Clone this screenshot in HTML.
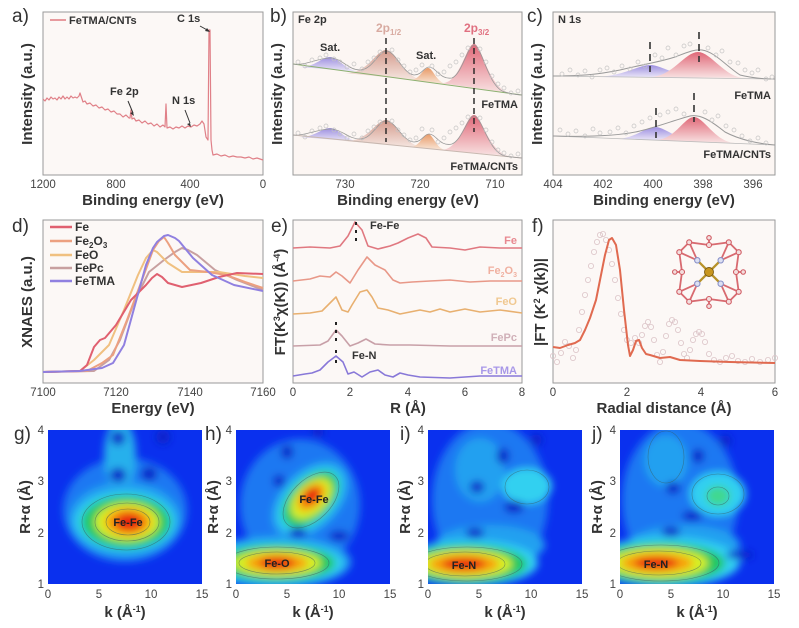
<!DOCTYPE html>
<html><head><meta charset="utf-8">
<style>
html,body{margin:0;padding:0;background:#fff;}
svg{display:block;font-family:"Liberation Sans",Arial,sans-serif;}
.t{font-size:11.5px;fill:#444;}
.ax{font-size:15px;font-weight:bold;fill:#333;}
.pl{font-size:19px;fill:#333;}
.lb{font-size:11px;font-weight:bold;fill:#333;}
</style></head><body>
<svg width="799" height="628" viewBox="0 0 799 628" xmlns="http://www.w3.org/2000/svg">
<defs>
<filter id="bl" x="-50%" y="-50%" width="200%" height="200%"><feGaussianBlur stdDeviation="4"/></filter>
<linearGradient id="gP" x1="0" y1="0" x2="0" y2="1"><stop offset="0" stop-color="#9c8ee0"/><stop offset="1" stop-color="#eeeaf8"/></linearGradient>
<linearGradient id="gB" x1="0" y1="0" x2="0" y2="1"><stop offset="0" stop-color="#d49a8c"/><stop offset="1" stop-color="#f6e8e2"/></linearGradient>
<linearGradient id="gO" x1="0" y1="0" x2="0" y2="1"><stop offset="0" stop-color="#e89a68"/><stop offset="1" stop-color="#f8e6d8"/></linearGradient>
<linearGradient id="gR" x1="0" y1="0" x2="0" y2="1"><stop offset="0" stop-color="#e06878"/><stop offset="1" stop-color="#f8e2e2"/></linearGradient>
<clipPath id="cg"><rect x="48" y="430" width="154" height="154"/></clipPath>
<clipPath id="ch"><rect x="236" y="430" width="154" height="154"/></clipPath>
<clipPath id="ci"><rect x="428" y="430" width="154" height="154"/></clipPath>
<clipPath id="cj"><rect x="620" y="430" width="154" height="154"/></clipPath>
</defs>

<rect x="43" y="12" width="220" height="163" fill="#fcf8f6" stroke="#999"/>
<rect x="293" y="12" width="229" height="163" fill="#fcf6f3" stroke="#999"/>
<rect x="553" y="12" width="222" height="163" fill="#fcf6f3" stroke="#999"/>
<rect x="43" y="220" width="220" height="163" fill="#fcf8f6" stroke="#999"/>
<rect x="293" y="220" width="229" height="163" fill="#fcf8f6" stroke="#999"/>
<rect x="553" y="220" width="222" height="163" fill="#fcf8f6" stroke="#999"/>

<!-- a curve -->
<polyline fill="none" stroke="#e08088" stroke-width="1.2" stroke-linejoin="round" points="43,99 45,101 47,98 49,100 51,97 53,99 55,98 57,100 59,97 61,99 63,96 65,99 67,97 69,99 71,96 73,98 75,97 77,98 79,96 80,93 81,96 83,102 85,101 87,104 90,103 93,106 96,105 99,108 102,107 105,110 108,109 111,112 114,111 117,114 120,114 123,117 126,115 129,118 130,118 131,110 132,119 134,118 136,121 139,120 142,123 145,121 148,124 151,123 154,126 157,124 160,127 163,125 165,127 166,104 167,128 170,127 173,129 176,127 179,128 182,126 185,128 188,126 191,127 194,125 197,126 200,124 202,121 204,124 206,137 208,140 209,30 210,30 211,140 212,150 213,155 217,154 221,156 225,155 229,157 233,156 237,157 241,157 245,158 249,157 253,159 257,158 263,160"/>

<!-- b top spectrum -->
<path d="M300,67 C315,67 322,57 330,57 C338,57 345,70 360,72 Z" fill="url(#gP)"/>
<path d="M345,73 C368,74 376,50 386,50 C396,50 404,78 425,81 Z" fill="url(#gB)"/>
<path d="M410,80 C420,80 423,68 428,68 C433,68 436,82 446,84 Z" fill="url(#gO)"/>
<path d="M440,83 C460,86 466,44 474,44 C482,44 488,88 510,93 Z" fill="url(#gR)"/>
<line x1="293" y1="64" x2="522" y2="95" stroke="#8cb070" stroke-width="1"/>
<path d="M293,64 C305,66 318,58 330,58 C342,58 348,70 360,70 C372,70 378,52 386,51 C396,51 402,73 414,75 C422,75 424,67 429,67 C436,67 440,80 452,78 C462,74 468,45 474,45 C482,45 488,88 505,92 C512,94 518,95 522,95" fill="none" stroke="#999" stroke-width="0.8"/>
<g fill="none" stroke="#c4c4c4" stroke-width="0.7">
<circle cx="298" cy="62" r="2"/><circle cx="305" cy="66" r="2"/><circle cx="312" cy="60" r="2"/><circle cx="320" cy="58" r="2"/><circle cx="326" cy="55" r="2"/><circle cx="334" cy="59" r="2"/><circle cx="340" cy="62" r="2"/><circle cx="347" cy="67" r="2"/><circle cx="354" cy="64" r="2"/><circle cx="362" cy="69" r="2"/><circle cx="368" cy="62" r="2"/><circle cx="374" cy="58" r="2"/><circle cx="380" cy="52" r="2"/><circle cx="392" cy="50" r="2"/><circle cx="398" cy="60" r="2"/><circle cx="404" cy="66" r="2"/><circle cx="410" cy="72" r="2"/><circle cx="416" cy="70" r="2"/><circle cx="422" cy="65" r="2"/><circle cx="432" cy="66" r="2"/><circle cx="438" cy="74" r="2"/><circle cx="444" cy="72" r="2"/><circle cx="450" cy="66" r="2"/><circle cx="456" cy="62" r="2"/><circle cx="462" cy="55" r="2"/><circle cx="468" cy="48" r="2"/><circle cx="480" cy="49" r="2"/><circle cx="486" cy="62" r="2"/><circle cx="492" cy="76" r="2"/><circle cx="498" cy="84" r="2"/><circle cx="504" cy="88" r="2"/><circle cx="511" cy="93" r="2"/><circle cx="518" cy="91" r="2"/>
</g>
<!-- b bottom spectrum -->
<path d="M300,137 C315,137 322,128 330,128 C338,128 345,140 360,142 Z" fill="url(#gP)"/>
<path d="M345,141 C368,142 376,120 386,120 C396,120 404,146 425,148 Z" fill="url(#gB)"/>
<path d="M410,147 C420,147 423,134 428,134 C433,134 436,149 446,150 Z" fill="url(#gO)"/>
<path d="M440,150 C460,151 466,115 474,115 C482,115 488,153 510,156 Z" fill="url(#gR)"/>
<line x1="293" y1="135" x2="522" y2="158" stroke="#c8b8b0" stroke-width="1"/>
<path d="M293,135 C305,136 318,129 330,129 C342,129 348,139 360,139 C372,139 378,121 386,121 C396,121 402,141 414,142 C422,142 424,134 429,134 C436,134 440,147 452,144 C462,140 468,116 474,116 C482,116 488,152 505,156 C512,157 518,158 522,158" fill="none" stroke="#999" stroke-width="0.8"/>
<g fill="none" stroke="#c4c4c4" stroke-width="0.7">
<circle cx="298" cy="133" r="2"/><circle cx="305" cy="137" r="2"/><circle cx="312" cy="131" r="2"/><circle cx="320" cy="128" r="2"/><circle cx="326" cy="126" r="2"/><circle cx="334" cy="130" r="2"/><circle cx="340" cy="134" r="2"/><circle cx="347" cy="138" r="2"/><circle cx="354" cy="134" r="2"/><circle cx="362" cy="138" r="2"/><circle cx="368" cy="131" r="2"/><circle cx="374" cy="127" r="2"/><circle cx="380" cy="122" r="2"/><circle cx="392" cy="121" r="2"/><circle cx="398" cy="130" r="2"/><circle cx="404" cy="135" r="2"/><circle cx="410" cy="140" r="2"/><circle cx="416" cy="138" r="2"/><circle cx="422" cy="129" r="2"/><circle cx="432" cy="130" r="2"/><circle cx="438" cy="142" r="2"/><circle cx="444" cy="138" r="2"/><circle cx="450" cy="132" r="2"/><circle cx="456" cy="128" r="2"/><circle cx="462" cy="123" r="2"/><circle cx="468" cy="117" r="2"/><circle cx="480" cy="118" r="2"/><circle cx="486" cy="130" r="2"/><circle cx="492" cy="142" r="2"/><circle cx="498" cy="150" r="2"/><circle cx="504" cy="153" r="2"/><circle cx="511" cy="156" r="2"/><circle cx="518" cy="154" r="2"/>
</g>
<line x1="386" y1="38" x2="386" y2="142" stroke="#222" stroke-width="1.4" stroke-dasharray="6,4"/>
<line x1="474" y1="38" x2="474" y2="132" stroke="#222" stroke-width="1.4" stroke-dasharray="6,4"/>

<!-- c -->
<path d="M595,77 C625,76 638,65 650,65 C662,65 675,77 705,78 Z" fill="url(#gP)"/>
<path d="M650,77 C672,77 685,52 698,52 C711,52 725,78 745,78 Z" fill="url(#gR)"/>
<line x1="553" y1="76" x2="775" y2="79" stroke="#bbb" stroke-width="0.8"/>
<path d="M553,76 C585,76 600,74 620,70 C640,65 660,62 675,57 C688,52 695,49 702,50 C715,52 725,65 740,75 C752,78 765,79 775,79" fill="none" stroke="#999" stroke-width="1"/>
<g fill="none" stroke="#c4c4c4" stroke-width="0.7">
<circle cx="562" cy="74" r="2"/><circle cx="570" cy="70" r="2"/><circle cx="578" cy="75" r="2"/><circle cx="585" cy="71" r="2"/><circle cx="592" cy="77" r="2"/><circle cx="600" cy="70" r="2"/><circle cx="607" cy="68" r="2"/><circle cx="614" cy="72" r="2"/><circle cx="622" cy="66" r="2"/><circle cx="630" cy="69" r="2"/><circle cx="638" cy="62" r="2"/><circle cx="645" cy="66" r="2"/><circle cx="655" cy="55" r="2"/><circle cx="662" cy="58" r="2"/><circle cx="668" cy="48" r="2"/><circle cx="676" cy="55" r="2"/><circle cx="684" cy="46" r="2"/><circle cx="690" cy="44" r="2"/><circle cx="708" cy="48" r="2"/><circle cx="716" cy="55" r="2"/><circle cx="722" cy="51" r="2"/><circle cx="730" cy="62" r="2"/><circle cx="738" cy="63" r="2"/><circle cx="745" cy="70" r="2"/><circle cx="752" cy="73" r="2"/><circle cx="758" cy="70" r="2"/><circle cx="766" cy="79" r="2"/><circle cx="772" cy="77" r="2"/>
</g>
<path d="M615,139 C635,139 645,127 655,127 C665,127 675,139 695,141 Z" fill="url(#gP)"/>
<path d="M655,140 C675,140 684,117 694,117 C704,117 715,142 735,143 Z" fill="url(#gR)"/>
<line x1="553" y1="136" x2="775" y2="145" stroke="#bbb" stroke-width="0.8"/>
<path d="M553,136 C590,137 620,136 640,131 C660,126 675,120 690,116 C700,114 710,120 725,132 C740,140 760,144 775,145" fill="none" stroke="#999" stroke-width="1"/>
<g fill="none" stroke="#c4c4c4" stroke-width="0.7">
<circle cx="560" cy="130" r="2"/><circle cx="568" cy="134" r="2"/><circle cx="576" cy="131" r="2"/><circle cx="585" cy="136" r="2"/><circle cx="593" cy="129" r="2"/><circle cx="600" cy="133" r="2"/><circle cx="610" cy="132" r="2"/><circle cx="618" cy="128" r="2"/><circle cx="626" cy="133" r="2"/><circle cx="634" cy="126" r="2"/><circle cx="642" cy="122" r="2"/><circle cx="650" cy="118" r="2"/><circle cx="660" cy="115" r="2"/><circle cx="668" cy="112" r="2"/><circle cx="676" cy="109" r="2"/><circle cx="684" cy="114" r="2"/><circle cx="705" cy="112" r="2"/><circle cx="712" cy="120" r="2"/><circle cx="718" cy="116" r="2"/><circle cx="726" cy="126" r="2"/><circle cx="734" cy="130" r="2"/><circle cx="742" cy="136" r="2"/><circle cx="750" cy="141" r="2"/><circle cx="758" cy="138" r="2"/><circle cx="766" cy="143" r="2"/>
</g>
<g stroke="#333" stroke-width="1.6" stroke-dasharray="7,5">
<line x1="650" y1="42" x2="650" y2="72"/><line x1="699" y1="32" x2="699" y2="62"/>
<line x1="656" y1="108" x2="656" y2="138"/><line x1="694" y1="93" x2="694" y2="122"/>
</g>

<!-- d curves -->
<g fill="none" stroke-width="2" stroke-linejoin="round">
<polyline stroke="#c8a0a0" points="43,372 94,371 109,360 120,340 135,300 149,272 164,260 175,252 182,248 188,250 197,255 215,270 237,280 263,290"/>
<polyline stroke="#f0c080" points="43,372 80,371 94,360 109,345 124,310 138,275 146,258 153,250 157,252 168,263 182,272 197,272 219,272 245,276 263,278"/>
<polyline stroke="#eca080" points="43,372 87,371 102,363 113,355 127,320 142,280 153,250 159,241 164,237 168,243 175,255 190,270 208,272 226,275 245,282 263,288"/>
<polyline stroke="#e06070" points="43,372 80,371 87,365 94,347 100,340 105,338 116,325 131,300 146,285 152,278 157,274 162,277 168,283 182,287 201,283 219,277 237,273 263,274"/>
<polyline stroke="#9080e0" points="43,372 80,371 102,368 113,363 124,345 135,305 146,265 153,248 157,242 164,236 168,235 175,238 179,241 193,258 212,275 234,285 263,291"/>
</g>

<!-- e curves -->
<g fill="none" stroke-width="1.6" stroke-linejoin="round">
<polyline stroke="#e07880" points="293,248 310,247 330,248 340,246 348,236 355,222 362,230 368,246 378,249 390,246 398,243 408,238 418,234 426,238 432,247 450,248 465,250 480,247 500,248 522,248"/>
<polyline stroke="#e89888" points="293,281 310,279 320,276 330,277 336,272 342,276 350,283 358,270 367,257 375,265 385,270 393,280 400,283 412,282 430,281 450,280 470,282 490,281 522,281"/>
<polyline stroke="#e8b070" points="293,314 310,313 322,311 328,305 336,297 342,310 348,312 352,305 360,292 367,290 372,297 378,308 388,310 400,314 410,312 420,310 430,312 440,309 450,312 465,309 480,312 500,310 522,313"/>
<polyline stroke="#c8a0a8" points="293,346 320,345 328,341 336,330 342,336 350,346 358,343 366,339 375,344 390,345 410,345 450,346 522,346"/>
<polyline stroke="#8878d8" points="293,376 305,374 312,373 320,370 328,362 336,356 343,362 348,374 354,372 362,377 370,372 378,370 385,375 393,377 400,373 408,375 420,377 450,378 480,376 522,376"/>
</g>
<g fill="#222">
<rect x="355" y="222" width="2" height="3"/><rect x="355" y="230" width="2" height="3"/><rect x="355" y="238" width="2" height="3"/>
<rect x="335" y="322" width="2" height="3"/><rect x="335" y="330" width="2" height="3"/><rect x="335" y="338" width="2" height="3"/><rect x="335" y="350" width="2" height="3"/><rect x="335" y="360" width="2" height="3"/>
</g>

<!-- f -->
<g fill="none" stroke="#dcc4c8" stroke-width="0.8">
<circle cx="553" cy="356" r="2.6"/><circle cx="557" cy="362" r="2.6"/><circle cx="561" cy="353" r="2.6"/><circle cx="565" cy="342" r="2.6"/><circle cx="569" cy="346" r="2.6"/><circle cx="573" cy="358" r="2.6"/><circle cx="576" cy="350" r="2.6"/><circle cx="579" cy="330" r="2.6"/><circle cx="582" cy="312" r="2.6"/><circle cx="585" cy="295" r="2.6"/><circle cx="588" cy="280" r="2.6"/><circle cx="591" cy="266" r="2.6"/><circle cx="594" cy="252" r="2.6"/><circle cx="597" cy="242" r="2.6"/><circle cx="600" cy="235" r="2.6"/><circle cx="603" cy="234" r="2.6"/><circle cx="606" cy="240" r="2.6"/><circle cx="609" cy="250" r="2.6"/><circle cx="612" cy="264" r="2.6"/><circle cx="615" cy="280" r="2.6"/><circle cx="618" cy="298" r="2.6"/><circle cx="621" cy="314" r="2.6"/><circle cx="624" cy="330" r="2.6"/><circle cx="627" cy="340" r="2.6"/><circle cx="631" cy="343" r="2.6"/><circle cx="635" cy="338" r="2.6"/><circle cx="639" cy="343" r="2.6"/><circle cx="642" cy="335" r="2.6"/><circle cx="645" cy="326" r="2.6"/><circle cx="648" cy="322" r="2.6"/><circle cx="651" cy="327" r="2.6"/><circle cx="654" cy="340" r="2.6"/><circle cx="657" cy="355" r="2.6"/><circle cx="660" cy="362" r="2.6"/><circle cx="663" cy="352" r="2.6"/><circle cx="666" cy="336" r="2.6"/><circle cx="669" cy="324" r="2.6"/><circle cx="672" cy="320" r="2.6"/><circle cx="675" cy="322" r="2.6"/><circle cx="678" cy="330" r="2.6"/><circle cx="681" cy="343" r="2.6"/><circle cx="684" cy="354" r="2.6"/><circle cx="687" cy="358" r="2.6"/><circle cx="690" cy="350" r="2.6"/><circle cx="693" cy="340" r="2.6"/><circle cx="696" cy="334" r="2.6"/><circle cx="699" cy="332" r="2.6"/><circle cx="702" cy="334" r="2.6"/><circle cx="705" cy="342" r="2.6"/><circle cx="709" cy="354" r="2.6"/><circle cx="714" cy="360" r="2.6"/><circle cx="720" cy="362" r="2.6"/><circle cx="726" cy="358" r="2.6"/><circle cx="732" cy="356" r="2.6"/><circle cx="738" cy="361" r="2.6"/><circle cx="745" cy="362" r="2.6"/><circle cx="752" cy="359" r="2.6"/><circle cx="760" cy="362" r="2.6"/><circle cx="768" cy="360" r="2.6"/><circle cx="775" cy="358" r="2.6"/>
</g>
<polyline fill="none" stroke="#e06a50" stroke-width="2" stroke-linejoin="round" points="553,347 560,348 568,345 575,343 580,340 585,330 590,318 596,300 600,280 605,255 609,240 612,238 616,245 620,270 624,310 628,345 630,356 633,350 636,341 639,340 642,348 646,354 650,355 660,358 670,357 680,360 700,361 730,362 775,363"/>
<!-- inset molecule -->
<g transform="translate(709,272) scale(0.9)">
<g stroke="#d86a70" stroke-width="2" fill="none">
<polygon points="-22,-33 0,-30 22,-33 33,-22 30,0 33,22 22,33 0,30 -22,33 -33,22 -30,0 -33,-22"/>
<line x1="-13" y1="-13" x2="-22" y2="-33"/><line x1="-13" y1="-13" x2="-33" y2="-22"/>
<line x1="13" y1="-13" x2="22" y2="-33"/><line x1="13" y1="-13" x2="33" y2="-22"/>
<line x1="13" y1="13" x2="22" y2="33"/><line x1="13" y1="13" x2="33" y2="22"/>
<line x1="-13" y1="13" x2="-22" y2="33"/><line x1="-13" y1="13" x2="-33" y2="22"/>
<line x1="0" y1="-30" x2="0" y2="-38"/><line x1="30" y1="0" x2="38" y2="0"/><line x1="0" y1="30" x2="0" y2="38"/><line x1="-30" y1="0" x2="-38" y2="0"/>
</g>
<g stroke="#b8922a" stroke-width="2.5"><line x1="-13" y1="-13" x2="13" y2="13"/><line x1="13" y1="-13" x2="-13" y2="13"/></g>
<g fill="#f3dede" stroke="#d05a62" stroke-width="1.2">
<circle cx="-22" cy="-33" r="2.8"/><circle cx="0" cy="-30" r="2.8"/><circle cx="22" cy="-33" r="2.8"/><circle cx="33" cy="-22" r="2.8"/><circle cx="30" cy="0" r="2.8"/><circle cx="33" cy="22" r="2.8"/><circle cx="22" cy="33" r="2.8"/><circle cx="0" cy="30" r="2.8"/><circle cx="-22" cy="33" r="2.8"/><circle cx="-33" cy="22" r="2.8"/><circle cx="-30" cy="0" r="2.8"/><circle cx="-33" cy="-22" r="2.8"/>
<circle cx="0" cy="-38" r="2.5"/><circle cx="38" cy="0" r="2.5"/><circle cx="0" cy="38" r="2.5"/><circle cx="-38" cy="0" r="2.5"/>
</g>
<g fill="#dde0f2" stroke="#8890c8" stroke-width="1.2"><circle cx="-13" cy="-13" r="3"/><circle cx="13" cy="-13" r="3"/><circle cx="13" cy="13" r="3"/><circle cx="-13" cy="13" r="3"/></g>
<circle cx="0" cy="0" r="5" fill="#c8961e" stroke="#7a5a10"/>
</g>

<!-- heatmaps -->
<g clip-path="url(#cg)">
<rect x="48" y="430" width="154" height="154" fill="#0a30ee"/>
<g filter="url(#bl)">
<ellipse cx="125" cy="510" rx="62" ry="52" fill="#1a78f2"/>
<ellipse cx="120" cy="455" rx="16" ry="35" fill="#28b0ec"/>
<ellipse cx="125" cy="520" rx="56" ry="38" fill="#22a0f0"/>
<ellipse cx="125" cy="521" rx="50" ry="30" fill="#30d0f0"/>
<ellipse cx="126" cy="522" rx="44" ry="26" fill="#20c860"/>
<ellipse cx="127" cy="522" rx="32" ry="19" fill="#d8f020"/>
<ellipse cx="128" cy="522" rx="23" ry="14" fill="#f8a010"/>
<ellipse cx="129" cy="522" rx="14" ry="9" fill="#e82010"/>
<ellipse cx="118" cy="475" rx="8" ry="7" fill="#0820c8"/><ellipse cx="118" cy="438" rx="7" ry="7" fill="#0820c8"/><ellipse cx="149" cy="474" rx="8" ry="7" fill="#0820c8"/><ellipse cx="163" cy="437" rx="7" ry="7" fill="#0820c8"/>
</g>
<g fill="none" stroke="#3a5a5a" stroke-width="0.6" opacity="0.6"><ellipse cx="126" cy="522" rx="44" ry="28"/><ellipse cx="127" cy="522" rx="32" ry="19"/><ellipse cx="128" cy="522" rx="22" ry="13"/></g>
</g>
<g clip-path="url(#ch)">
<rect x="236" y="430" width="154" height="154" fill="#0a30ee"/>
<g filter="url(#bl)">
<ellipse cx="300" cy="505" rx="60" ry="66" fill="#1a78f2"/>
<g transform="rotate(-45 310 500)">
<ellipse cx="310" cy="500" rx="46" ry="29" fill="#22a0f0"/>
<ellipse cx="310" cy="500" rx="40" ry="24" fill="#30d0f0"/>
<ellipse cx="311" cy="500" rx="34" ry="20" fill="#20c860"/>
<ellipse cx="312" cy="500" rx="25" ry="15" fill="#d8f020"/>
<ellipse cx="313" cy="499" rx="17" ry="10" fill="#f8a010"/>
<ellipse cx="314" cy="498" rx="10" ry="7" fill="#e82010"/>
</g>
<ellipse cx="277" cy="562" rx="74" ry="26" fill="#22a0f0"/>
<ellipse cx="277" cy="563" rx="66" ry="21" fill="#30d0f0"/>
<ellipse cx="277" cy="563" rx="58" ry="18" fill="#20c860"/>
<ellipse cx="277" cy="563" rx="44" ry="13" fill="#d8f020"/>
<ellipse cx="277" cy="563" rx="31" ry="9" fill="#f8a010"/>
<ellipse cx="277" cy="563" rx="18" ry="6" fill="#e82010"/>
<ellipse cx="298" cy="533" rx="9" ry="5" fill="#0820c8"/><ellipse cx="339" cy="536" rx="10" ry="5" fill="#0820c8"/><ellipse cx="279" cy="481" rx="6" ry="6" fill="#0820c8"/><ellipse cx="287" cy="452" rx="6" ry="7" fill="#0820c8"/><ellipse cx="318" cy="432" rx="6" ry="5" fill="#0820c8"/>
</g>
<g fill="none" stroke="#3a5a5a" stroke-width="0.6" opacity="0.6"><ellipse cx="311" cy="500" rx="34" ry="20" transform="rotate(-45 311 500)"/><ellipse cx="277" cy="563" rx="52" ry="16"/><ellipse cx="277" cy="563" rx="38" ry="11"/></g>
</g>
<g clip-path="url(#ci)">
<rect x="428" y="430" width="154" height="154" fill="#0a30ee"/>
<g filter="url(#bl)">
<ellipse cx="490" cy="500" rx="58" ry="78" fill="#1a78f2"/>
<ellipse cx="480" cy="470" rx="25" ry="32" fill="#22a0f0"/>
<ellipse cx="527" cy="486" rx="25" ry="18" fill="#30d0f0"/>
<ellipse cx="490" cy="545" rx="55" ry="20" fill="#22a0f0"/>
<ellipse cx="470" cy="563" rx="68" ry="23" fill="#30d0f0"/>
<ellipse cx="467" cy="564" rx="60" ry="19" fill="#20c860"/>
<ellipse cx="465" cy="564" rx="47" ry="14" fill="#d8f020"/>
<ellipse cx="464" cy="564" rx="35" ry="10" fill="#f8a010"/>
<ellipse cx="464" cy="564" rx="22" ry="6" fill="#e82010"/>
<ellipse cx="475" cy="533" rx="9" ry="5" fill="#0820c8"/><ellipse cx="477" cy="487" rx="7" ry="6" fill="#0820c8"/><ellipse cx="514" cy="507" rx="10" ry="6" fill="#0820c8"/><ellipse cx="503" cy="456" rx="6" ry="8" fill="#0820c8"/><ellipse cx="536" cy="440" rx="6" ry="6" fill="#0820c8"/>
</g>
<g fill="none" stroke="#3a5a5a" stroke-width="0.6" opacity="0.6"><ellipse cx="527" cy="487" rx="22" ry="17"/><ellipse cx="467" cy="564" rx="55" ry="17"/><ellipse cx="465" cy="564" rx="40" ry="12"/></g>
</g>
<g clip-path="url(#cj)">
<rect x="620" y="430" width="154" height="154" fill="#0a30ee"/>
<g filter="url(#bl)">
<ellipse cx="680" cy="500" rx="58" ry="78" fill="#1a78f2"/>
<ellipse cx="666" cy="461" rx="22" ry="26" fill="#22a0f0"/>
<ellipse cx="718" cy="494" rx="28" ry="22" fill="#30d0f0"/>
<ellipse cx="718" cy="496" rx="12" ry="10" fill="#40d890"/>
<ellipse cx="685" cy="545" rx="55" ry="20" fill="#22a0f0"/>
<ellipse cx="666" cy="562" rx="74" ry="25" fill="#30d0f0"/>
<ellipse cx="661" cy="563" rx="64" ry="20" fill="#20c860"/>
<ellipse cx="659" cy="563" rx="49" ry="15" fill="#d8f020"/>
<ellipse cx="657" cy="563" rx="36" ry="10" fill="#f8a010"/>
<ellipse cx="656" cy="563" rx="22" ry="6" fill="#e82010"/>
<ellipse cx="671" cy="532" rx="9" ry="5" fill="#0820c8"/><ellipse cx="673" cy="488" rx="7" ry="6" fill="#0820c8"/><ellipse cx="692" cy="516" rx="10" ry="5" fill="#0820c8"/><ellipse cx="698" cy="456" rx="6" ry="7" fill="#0820c8"/><ellipse cx="725" cy="441" rx="6" ry="6" fill="#0820c8"/><ellipse cx="740" cy="555" rx="14" ry="4" fill="#0820c8"/>
</g>
<g fill="none" stroke="#3a5a5a" stroke-width="0.6" opacity="0.6"><ellipse cx="666" cy="457" rx="18" ry="26"/><ellipse cx="718" cy="494" rx="26" ry="20"/><ellipse cx="718" cy="496" rx="11" ry="9"/><ellipse cx="661" cy="563" rx="58" ry="18"/><ellipse cx="659" cy="563" rx="42" ry="12"/></g>
</g>

<!-- panel letters -->
<text class="pl" x="12" y="22">a)</text>
<text class="pl" x="270" y="22">b)</text>
<text class="pl" x="527" y="22">c)</text>
<text class="pl" x="12" y="232">d)</text>
<text class="pl" x="271" y="232">e)</text>
<text class="pl" x="532" y="232">f)</text>
<text class="pl" x="14" y="440">g)</text>
<text class="pl" x="205" y="440">h)</text>
<text class="pl" x="400" y="440">i)</text>
<text class="pl" x="592" y="440">j)</text>

<!-- a -->
<line x1="50" y1="20" x2="66" y2="20" stroke="#e07a80" stroke-width="1.5"/>
<text class="lb" x="69" y="24">FeTMA/CNTs</text>
<text class="lb" x="177" y="22" font-size="12">C 1s</text>
<text class="lb" x="110" y="95" font-size="12">Fe 2p</text>
<text class="lb" x="172" y="104" font-size="12">N 1s</text>
<line x1="200" y1="26" x2="209" y2="31" stroke="#333"/><path d="M210,32 l-5,-1 2,-3z" fill="#333"/>
<line x1="128" y1="101" x2="133" y2="113" stroke="#333"/><path d="M134,116 l-4,-3 3,-1z" fill="#333"/>
<line x1="185" y1="110" x2="190" y2="123" stroke="#333"/><path d="M191,127 l-4,-3 3,-1z" fill="#333"/>
<text class="t" x="43" y="188" text-anchor="middle">1200</text>
<text class="t" x="116" y="188" text-anchor="middle">800</text>
<text class="t" x="190" y="188" text-anchor="middle">400</text>
<text class="t" x="263" y="188" text-anchor="middle">0</text>
<text class="ax" x="153" y="205" text-anchor="middle">Binding energy (eV)</text>
<text class="ax" x="32" y="94" text-anchor="middle" transform="rotate(-90 32 94)">Intensity (a.u.)</text>

<!-- b -->
<text class="lb" x="298" y="23">Fe 2p</text>
<text class="lb" x="320" y="51" font-size="12">Sat.</text>
<text class="lb" x="416" y="59" font-size="12">Sat.</text>
<text x="376" y="32" font-size="12" font-weight="bold" fill="#d8aaa0">2p<tspan font-size="8" dy="3">1/2</tspan></text>
<text x="464" y="32" font-size="12" font-weight="bold" fill="#e07080">2p<tspan font-size="8" dy="3">3/2</tspan></text>
<text class="lb" x="518" y="108" text-anchor="end">FeTMA</text>
<text class="lb" x="518" y="170" text-anchor="end">FeTMA/CNTs</text>
<text class="t" x="345" y="188" text-anchor="middle">730</text>
<text class="t" x="420" y="188" text-anchor="middle">720</text>
<text class="t" x="495" y="188" text-anchor="middle">710</text>
<text class="ax" x="408" y="205" text-anchor="middle">Binding energy (eV)</text>
<text class="ax" x="282" y="94" text-anchor="middle" transform="rotate(-90 282 94)">Intensity (a.u.)</text>

<!-- c -->
<text class="lb" x="558" y="23">N 1s</text>
<text class="lb" x="771" y="99" text-anchor="end">FeTMA</text>
<text class="lb" x="771" y="158" text-anchor="end">FeTMA/CNTs</text>
<text class="t" x="553" y="188" text-anchor="middle">404</text>
<text class="t" x="603" y="188" text-anchor="middle">402</text>
<text class="t" x="653" y="188" text-anchor="middle">400</text>
<text class="t" x="703" y="188" text-anchor="middle">398</text>
<text class="t" x="753" y="188" text-anchor="middle">396</text>
<text class="ax" x="664" y="205" text-anchor="middle">Binding energy (eV)</text>
<text class="ax" x="542" y="94" text-anchor="middle" transform="rotate(-90 542 94)">Intensity (a.u.)</text>

<!-- d -->
<g font-size="12" font-weight="bold" fill="#333">
<line x1="50" y1="227" x2="72" y2="227" stroke="#e06070" stroke-width="2.5"/><text x="75" y="231">Fe</text>
<line x1="50" y1="241" x2="72" y2="241" stroke="#eca080" stroke-width="2.5"/><text x="75" y="245">Fe<tspan font-size="8" dy="3">2</tspan><tspan dy="-3">O</tspan><tspan font-size="8" dy="3">3</tspan></text>
<line x1="50" y1="255" x2="72" y2="255" stroke="#f0c080" stroke-width="2.5"/><text x="75" y="259">FeO</text>
<line x1="50" y1="268" x2="72" y2="268" stroke="#c8a0a0" stroke-width="2.5"/><text x="75" y="272">FePc</text>
<line x1="50" y1="281" x2="72" y2="281" stroke="#9080e0" stroke-width="2.5"/><text x="75" y="285">FeTMA</text>
</g>
<text class="t" x="43" y="396" text-anchor="middle">7100</text>
<text class="t" x="116" y="396" text-anchor="middle">7120</text>
<text class="t" x="190" y="396" text-anchor="middle">7140</text>
<text class="t" x="263" y="396" text-anchor="middle">7160</text>
<text class="ax" x="153" y="413" text-anchor="middle">Energy (eV)</text>
<text class="ax" x="32" y="302" text-anchor="middle" transform="rotate(-90 32 302)">XNAES (a.u.)</text>

<!-- e -->
<g font-size="11" font-weight="bold" text-anchor="end">
<text x="517" y="244" fill="#e88890">Fe</text>
<text x="517" y="274" fill="#f0b0a0">Fe<tspan font-size="7" dy="3">2</tspan><tspan dy="-3">O</tspan><tspan font-size="7" dy="3">3</tspan></text>
<text x="517" y="305" fill="#f0c890">FeO</text>
<text x="517" y="341" fill="#d0b0b8">FePc</text>
<text x="517" y="374" fill="#a898e8">FeTMA</text>
</g>
<text class="lb" x="370" y="229">Fe-Fe</text>
<text class="lb" x="352" y="359">Fe-N</text>
<text class="t" x="293" y="396" text-anchor="middle">0</text>
<text class="t" x="350" y="396" text-anchor="middle">2</text>
<text class="t" x="408" y="396" text-anchor="middle">4</text>
<text class="t" x="465" y="396" text-anchor="middle">6</text>
<text class="t" x="522" y="396" text-anchor="middle">8</text>
<text class="ax" x="408" y="413" text-anchor="middle">R (Å)</text>
<text class="ax" x="285" y="302" text-anchor="middle" transform="rotate(-90 285 302)" font-size="14">FT(K<tspan font-size="9" dy="-5">3</tspan><tspan dy="5">χ(K)) (Å</tspan><tspan font-size="9" dy="-5">-4</tspan><tspan dy="5">)</tspan></text>

<!-- f -->
<text class="t" x="553" y="396" text-anchor="middle">0</text>
<text class="t" x="627" y="396" text-anchor="middle">2</text>
<text class="t" x="701" y="396" text-anchor="middle">4</text>
<text class="t" x="775" y="396" text-anchor="middle">6</text>
<text class="ax" x="664" y="413" text-anchor="middle">Radial distance (Å)</text>
<text class="ax" x="545" y="302" text-anchor="middle" transform="rotate(-90 545 302)">|FT (K<tspan font-size="9" dy="-5">2</tspan><tspan dy="5"> χ(k))|</tspan></text>

<!-- heatmap labels -->
<g font-size="11.5" fill="#444" text-anchor="middle">
<text x="48" y="598">0</text><text x="99" y="598">5</text><text x="151" y="598">10</text><text x="202" y="598">15</text>
<text x="236" y="598">0</text><text x="287" y="598">5</text><text x="339" y="598">10</text><text x="390" y="598">15</text>
<text x="428" y="598">0</text><text x="479" y="598">5</text><text x="531" y="598">10</text><text x="582" y="598">15</text>
<text x="620" y="598">0</text><text x="671" y="598">5</text><text x="723" y="598">10</text><text x="774" y="598">15</text>
</g>
<g font-size="11.5" fill="#444" text-anchor="end">
<text x="44" y="434">4</text><text x="44" y="485">3</text><text x="44" y="537">2</text><text x="44" y="588">1</text>
<text x="232" y="434">4</text><text x="232" y="485">3</text><text x="232" y="537">2</text><text x="232" y="588">1</text>
<text x="424" y="434">4</text><text x="424" y="485">3</text><text x="424" y="537">2</text><text x="424" y="588">1</text>
<text x="616" y="434">4</text><text x="616" y="485">3</text><text x="616" y="537">2</text><text x="616" y="588">1</text>
</g>
<g class="ax">
<text x="125" y="617" text-anchor="middle">k (Å<tspan font-size="9" dy="-5">-1</tspan><tspan dy="5">)</tspan></text>
<text x="313" y="617" text-anchor="middle">k (Å<tspan font-size="9" dy="-5">-1</tspan><tspan dy="5">)</tspan></text>
<text x="505" y="617" text-anchor="middle">k (Å<tspan font-size="9" dy="-5">-1</tspan><tspan dy="5">)</tspan></text>
<text x="697" y="617" text-anchor="middle">k (Å<tspan font-size="9" dy="-5">-1</tspan><tspan dy="5">)</tspan></text>
<text x="30" y="507" text-anchor="middle" transform="rotate(-90 30 507)">R+α (Å)</text>
<text x="218" y="507" text-anchor="middle" transform="rotate(-90 218 507)">R+α (Å)</text>
<text x="410" y="507" text-anchor="middle" transform="rotate(-90 410 507)">R+α (Å)</text>
<text x="602" y="507" text-anchor="middle" transform="rotate(-90 602 507)">R+α (Å)</text>
</g>
<g font-size="11" font-weight="bold" fill="#222" text-anchor="middle">
<text x="128" y="526">Fe-Fe</text>
<text x="314" y="503">Fe-Fe</text>
<text x="277" y="567">Fe-O</text>
<text x="464" y="569">Fe-N</text>
<text x="656" y="568">Fe-N</text>
</g>
</svg>
</body></html>
